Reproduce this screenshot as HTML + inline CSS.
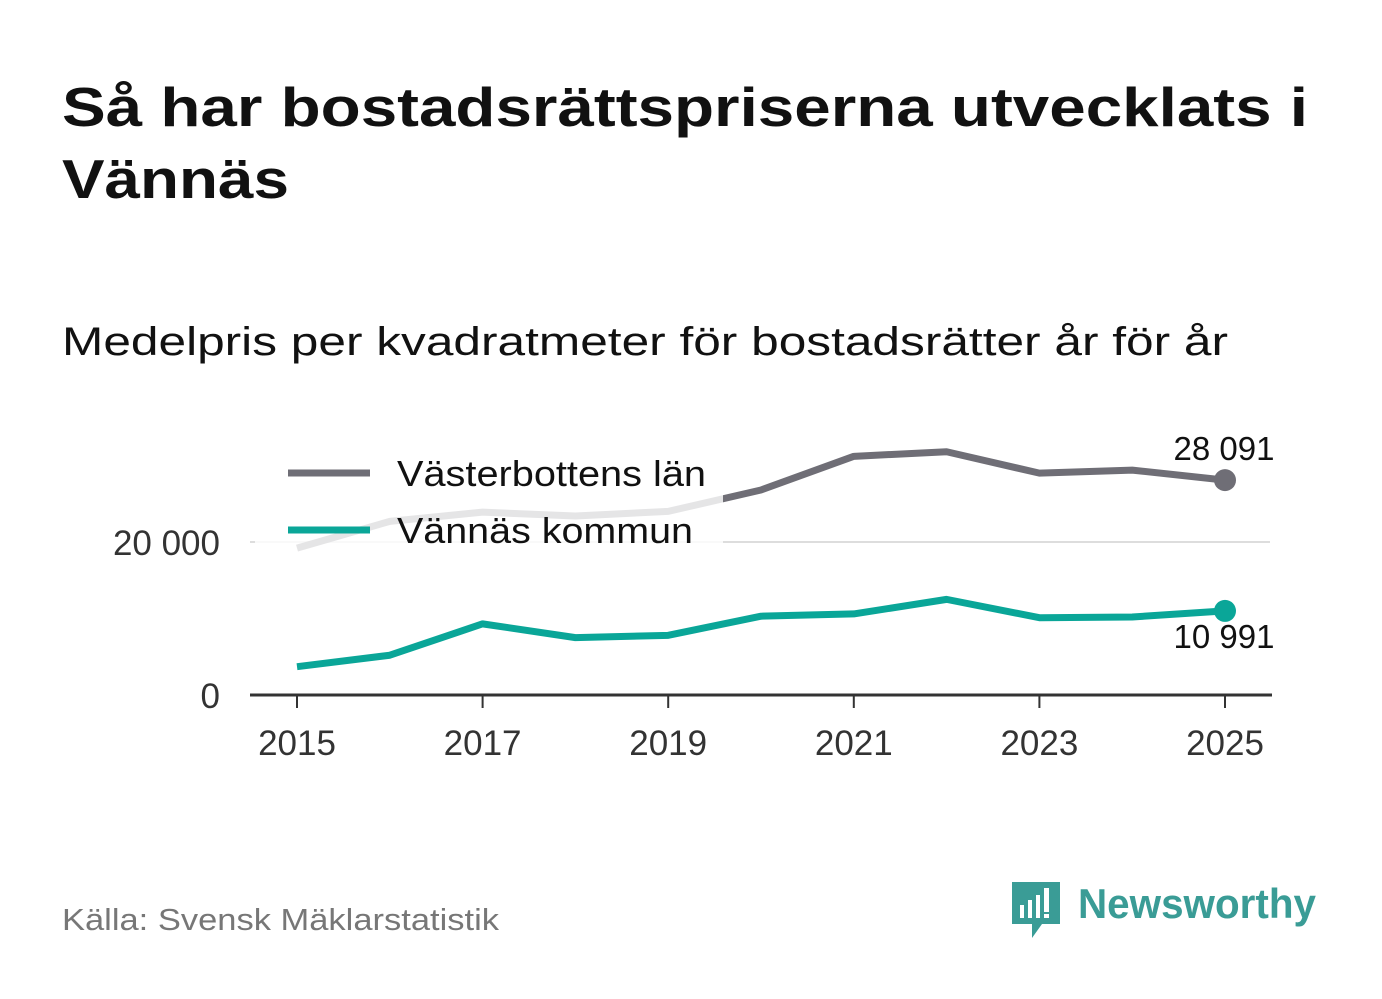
<!DOCTYPE html>
<html><head><meta charset="utf-8"><style>
body{margin:0;width:1382px;height:999px;background:#fff;font-family:"Liberation Sans",sans-serif;overflow:hidden}
svg{position:absolute;left:0;top:0}
</style></head><body>
<svg width="1382" height="999">
<text x="62" y="126" font-size="55" font-weight="bold" fill="#111" textLength="1246" lengthAdjust="spacingAndGlyphs">Så har bostadsrättspriserna utvecklats i</text>
<text x="62" y="198" font-size="55" font-weight="bold" fill="#111" textLength="227" lengthAdjust="spacingAndGlyphs">Vännäs</text>
<text x="62" y="355" font-size="40" fill="#111" textLength="1166" lengthAdjust="spacingAndGlyphs">Medelpris per kvadratmeter för bostadsrätter år för år</text>
<g id="plot"></g>
<text x="62" y="930" font-size="31" fill="#777" textLength="437" lengthAdjust="spacingAndGlyphs">Källa: Svensk Mäklarstatistik</text>
<g>
<path d="M1012 882h48v42h-18l-10 14v-14h-20z" fill="#3a9c96"/>
<rect x="1020" y="905" width="4" height="13" fill="#fff"/><rect x="1028" y="900" width="4" height="18" fill="#fff"/><rect x="1036" y="895" width="4" height="23" fill="#fff"/><rect x="1044" y="888" width="5" height="24" fill="#fff"/><rect x="1044" y="914" width="5" height="4" fill="#fff"/>
<text x="1078" y="918" font-size="42" font-weight="bold" fill="#3a9c96" textLength="238" lengthAdjust="spacingAndGlyphs">Newsworthy</text>
</g>
</svg>
<script>
const years=[2015,2016,2017,2018,2019,2020,2021,2022,2023,2024,2025];
const lan=[19200,22700,23900,23400,24000,26800,31200,31800,29000,29400,28091];
const kommun=[3700,5200,9300,7500,7800,10300,10600,12500,10100,10200,10991];
const yTicks=[0,20000];
const xTicks=[2015,2017,2019,2021,2023,2025];
const ns="http://www.w3.org/2000/svg";
const g=document.getElementById('plot');
const X=v=>297+(v-2015)*92.8;
const Y=v=>695-v*0.00765;
function mk(t,a,p){const e=document.createElementNS(ns,t);for(const k in a)e.setAttribute(k,a[k]);(p||g).appendChild(e);return e;}
const fmt=v=>String(v).replace(/\B(?=(\d{3})+(?!\d))/g,' ');
yTicks.forEach(v=>{
 if(v>0){const l=mk('line',{x1:250,x2:1270,y1:Y(v),y2:Y(v),stroke:'#ddd','stroke-width':2});
 
 }
 const t=mk('text',{x:220,y:Y(v)+13,'font-size':35,fill:'#333','text-anchor':'end'});t.textContent=fmt(v);
 
 
});
const ax=mk('line',{x1:250,x2:1272,y1:695,y2:695,stroke:'#333','stroke-width':3});


xTicks.forEach(v=>{
 mk('line',{x1:X(v),x2:X(v),y1:695,y2:708,stroke:'#333','stroke-width':2});
 const t=mk('text',{x:X(v),y:755,'font-size':35,fill:'#333','text-anchor':'middle'});t.textContent=v;
 
 
});
function series(d,c,name){
 const p=mk('polyline',{points:d.map((v,i)=>X(years[i])+','+Y(v)).join(' '),fill:'none',stroke:c,'stroke-width':7,'stroke-linejoin':'round'});
 
 
 const n=d.length-1;
 const c1=mk('circle',{cx:X(years[n]),cy:Y(d[n]),r:11,fill:c});
 
 
}
series(lan,'#6f6e76','lan');
series(kommun,'#0aa698','kommun');
mk('rect',{x:255,y:445,width:468,height:107,fill:'#fff',opacity:0.82});
const l1=mk('text',{x:1224,y:460,'font-size':33,fill:'#111','text-anchor':'middle'});l1.textContent=fmt(lan[lan.length-1]);


const l2=mk('text',{x:1224,y:648,'font-size':33,fill:'#111','text-anchor':'middle'});l2.textContent=fmt(kommun[kommun.length-1]);


[['Västerbottens län','#6f6e76',473,309],['Vännäs kommun','#0aa698',530,296]].forEach(([n,c,y,w])=>{
 mk('line',{x1:288,x2:370,y1:y,y2:y,stroke:c,'stroke-width':7});
 const t=mk('text',{x:397,y:y+13,'font-size':36,fill:'#111',textLength:w,lengthAdjust:'spacingAndGlyphs'});t.textContent=n;
 
 
});
</script>
</body></html>
